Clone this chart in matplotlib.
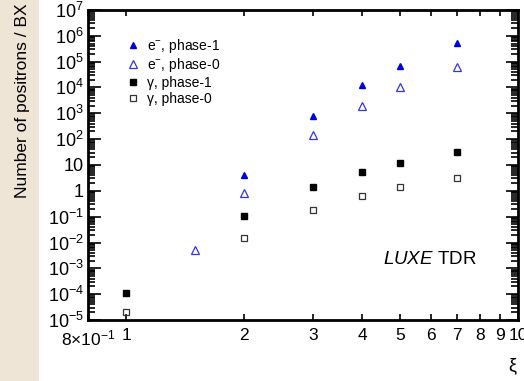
import matplotlib
matplotlib.use("Agg")
import matplotlib.pyplot as plt
from matplotlib.ticker import FixedLocator, LogLocator, NullFormatter
from matplotlib.patches import Rectangle

plt.rcParams["font.family"] = ["Liberation Sans", "DejaVu Sans"]
plt.rcParams["mathtext.fontset"] = "custom"
plt.rcParams["mathtext.rm"] = "Liberation Sans"
plt.rcParams["mathtext.it"] = "Liberation Sans:italic"

# ── data ──────────────────────────────────────────────────────────────────
xi_e1 = [2, 3, 4, 5, 7]
n_e1 = [4.0, 790, 1.26e4, 6.8e4, 5.2e5]

xi_e0 = [1.5, 2, 3, 4, 5, 7]
n_e0 = [5e-3, 0.8, 140, 2000, 1.0e4, 6.3e4]

xi_g1 = [1, 2, 3, 4, 5, 7]
n_g1 = [1.07e-4, 0.11, 1.4, 5.2, 12, 31]

xi_g0 = [1, 2, 3, 4, 5, 7]
n_g0 = [2e-5, 0.0145, 0.18, 0.63, 1.4, 3.2]

series_labels = ["e$^{-}$, phase-1", "e$^{-}$, phase-0", "γ, phase-1", "γ, phase-0"]

x_ticks = [0.8, 1, 2, 3, 4, 5, 6, 7, 8, 9, 10]
x_labels = [r"8$\times$10$^{-1}$", "1", "2", "3", "4", "5", "6", "7", "8", "9", "10"]
y_ticks = [1e-5, 1e-4, 1e-3, 1e-2, 1e-1, 1, 10, 1e2, 1e3, 1e4, 1e5, 1e6, 1e7]
y_labels = [r"10$^{-5}$", r"10$^{-4}$", r"10$^{-3}$", r"10$^{-2}$", r"10$^{-1}$",
            "1", "10", r"10$^{2}$", r"10$^{3}$", r"10$^{4}$", r"10$^{5}$",
            r"10$^{6}$", r"10$^{7}$"]

fig = plt.figure(figsize=(5.24, 3.81), dpi=100)
fig.patch.set_facecolor("white")
fig.add_artist(Rectangle((0, 0), 0.075, 1, transform=fig.transFigure,
                         facecolor="#eee5d6", edgecolor="none", zorder=0))

ax = fig.add_axes([0.168, 0.160, 0.8205, 0.814])
ax.set_xscale("log")
ax.set_yscale("log")
ax.set_xlim(0.8, 10)
ax.set_ylim(1e-5, 1e7)

h1, = ax.plot(xi_e1, n_e1, "^", color="#0000dd", ms=4.5, ls="none")
h2, = ax.plot(xi_e0, n_e0, "^", mfc="none", mec="#3333ee", ms=5.5, mew=0.9, ls="none")
h3, = ax.plot(xi_g1, n_g1, "s", color="black", ms=4.3, ls="none")
h4, = ax.plot(xi_g0, n_g0, "s", mfc="none", mec="#333333", ms=4.8, mew=0.9, ls="none")

ax.legend([h1, h2, h3, h4], series_labels, loc="upper left",
          bbox_to_anchor=(0.065, 0.945), frameon=False, fontsize=10,
          handletextpad=0.5, labelspacing=0.12, handlelength=1.0, borderpad=0.2)

ax.xaxis.set_major_locator(FixedLocator(x_ticks))
ax.set_xticklabels(x_labels)
ax.xaxis.set_minor_locator(FixedLocator([]))
ax.yaxis.set_major_locator(FixedLocator(y_ticks))
ax.set_yticklabels(y_labels)
ax.yaxis.set_minor_locator(LogLocator(base=10, subs=range(2, 10), numticks=50))
ax.yaxis.set_minor_formatter(NullFormatter())

ax.tick_params(axis="both", which="both", direction="in", top=True, right=True,
               labelsize=13, width=1.2)
ax.tick_params(axis="y", which="major", length=9, pad=3)
ax.tick_params(axis="y", which="minor", length=5)
ax.tick_params(axis="x", which="major", length=4, pad=6, labelsize=12.5)
for s in ax.spines.values():
    s.set_linewidth(2)

ax.text(0.685, 0.195, r"$\it{LUXE}$ TDR", transform=ax.transAxes, fontsize=13.5,
        ha="left", va="center")

fig.text(0.985, 0.04, "ξ", ha="right", va="center", fontsize=13)
fig.text(0.042, 0.99, "Number of positrons / BX", rotation=90, ha="center",
         va="top", fontsize=12.5)

fig.savefig("out.png", dpi=100)
